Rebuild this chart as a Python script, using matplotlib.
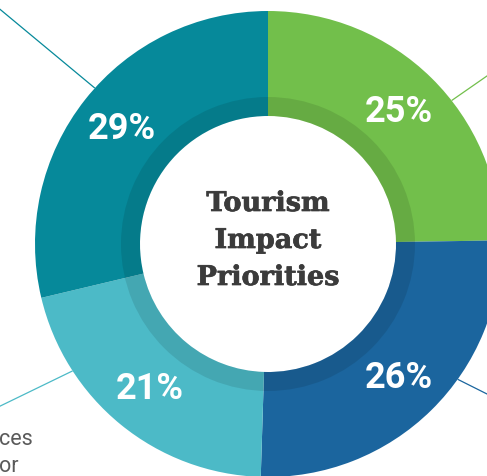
import numpy as np
import matplotlib
matplotlib.use("Agg")
import matplotlib.pyplot as plt
from matplotlib.patches import Wedge
import matplotlib.patheffects as pe

# Shares of each priority (clockwise from 12 o'clock)
categories = ["Environment", "Economy", "Community", "Culture"]
shares = [25, 26, 21, 29]
colors = ["#72bf4b", "#1b659e", "#4cbac7", "#06899a"]

# Leader lines toward the (off-canvas) category labels:
# anchor angle on the ring (deg, clockwise from top) and far end point
leader_angles = [52, 125.5, 237, 312]
leader_ends = [(497, 407), (497, 77), (-10, 65), (-10, 475)]

title_lines = ["Tourism", "Impact", "Priorities"]
side_text = ["ces", "or"]

W, H, DPI = 487, 477, 100
fig = plt.figure(figsize=(W / DPI, H / DPI), dpi=DPI)
ax = fig.add_axes([0, 0, 1, 1])

cx, cy = 268, 232
R_out, R_in = 233, 128

total = sum(shares)
wedges, _, autotexts = ax.pie(
    shares, colors=colors, center=(cx, cy), radius=R_out,
    startangle=90, counterclock=False,
    wedgeprops=dict(width=R_out - R_in, linewidth=0),
    autopct=lambda p: f"{round(p * total / 100):d}%",
    pctdistance=0.8,
    textprops=dict(color="white", fontsize=26, fontweight="bold",
                   family="Roboto"),
)

# soft inner shadow band around the hole
ax.add_patch(Wedge((cx, cy), 147, 0, 360, width=147 - R_in,
                   facecolor="black", alpha=0.1, linewidth=0))

# leader lines
for ang, end, col in zip(leader_angles, leader_ends, colors):
    a = np.deg2rad(ang)
    x0 = cx + R_out * np.sin(a)
    y0 = cy + R_out * np.cos(a)
    ax.plot([x0, end[0]], [y0, end[1]], color=col, lw=0.9,
            solid_capstyle="butt", zorder=0)

# centre title
for i, line in enumerate(title_lines):
    ax.text(cx, H - 212 - i * 37, line, ha="center", va="baseline",
            fontsize=19.5, fontweight="bold", family="DejaVu Serif",
            color="#3b3b3b",
            path_effects=[pe.Stroke(linewidth=0.5, foreground="#3b3b3b"),
                          pe.Normal()])

# partially visible side label
for i, line in enumerate(side_text):
    ax.text(-1, H - 445 - i * 27, line, ha="left", va="baseline",
            fontsize=15.5, fontweight="normal", family="Roboto",
            color="#5a5a5a")

ax.set_xlim(0, W)
ax.set_ylim(0, H)
ax.set_aspect("equal")
ax.axis("off")

fig.savefig("out.png", dpi=DPI, facecolor="white")
